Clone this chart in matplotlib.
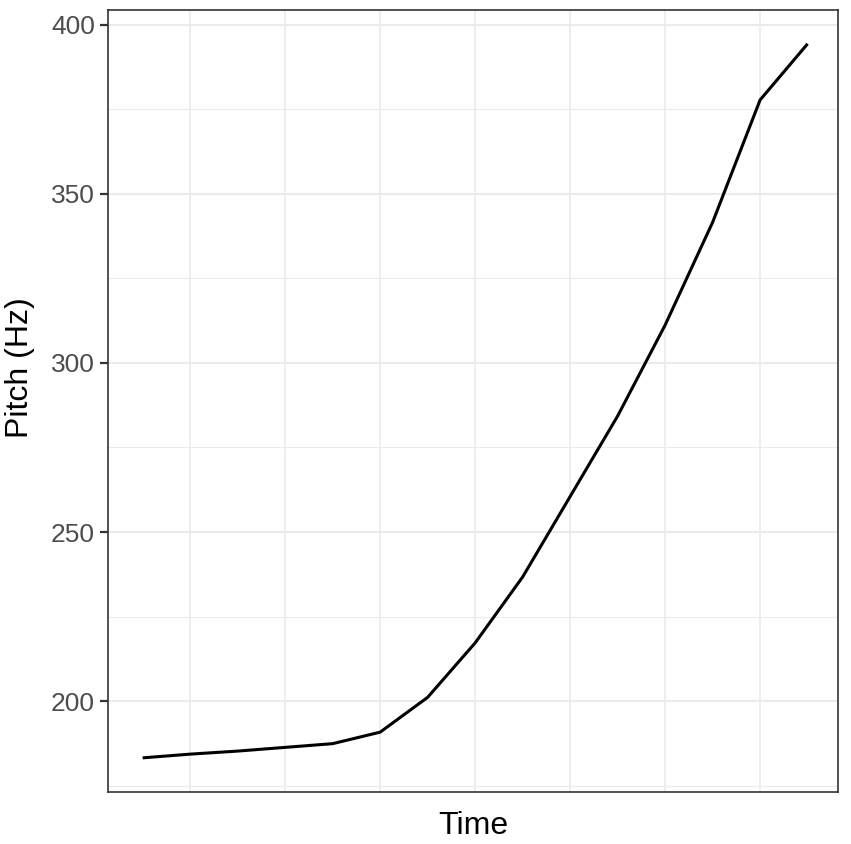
import numpy as np
import matplotlib
matplotlib.use('Agg')
import matplotlib.pyplot as plt

# pitch contour
time = [1, 2, 3, 4, 5, 6, 7, 8, 9, 10, 11, 12, 13, 14, 15]
pitch = [183.2, 184.3, 185.2, 186.3, 187.4, 190.8, 201.1, 217.2,
         236.7, 260.5, 284.3, 311.2, 341.6, 377.8, 394.4]
y_major = [200, 250, 300, 350, 400]
y_minor = [175, 225, 275, 325, 375]
x_grid = [2, 4, 6, 8, 10, 12, 14]

plt.rcParams['font.family'] = ['Liberation Sans', 'DejaVu Sans']

fig = plt.figure(figsize=(8.51, 8.44), dpi=100)
ax = fig.add_axes([108 / 851, 1 - 792 / 844, 730 / 851, 782 / 844])

grid_col = '#EBEBEB'
for v in y_minor:
    ax.axhline(v, color=grid_col, lw=0.8, zorder=0)
for v in y_major:
    ax.axhline(v, color=grid_col, lw=1.5, zorder=0)
for v in x_grid:
    ax.axvline(v, color=grid_col, lw=1.2, zorder=0)

ax.plot(time, pitch, color='black', lw=2.2, solid_capstyle='butt', zorder=3)

ax.set_xlim(0.27, 15.64)
ax.set_ylim(173.1, 404.4)
ax.set_yticks(y_major)
ax.set_xticks([])

for s in ax.spines.values():
    s.set_color('#333333')
    s.set_linewidth(1.2)

ax.tick_params(axis='y', length=5.5, width=1.6, color='#333333',
               labelsize=19, labelcolor='#4D4D4D', pad=4)

ax.set_ylabel('Pitch (Hz)', fontsize=23, color='black')
ax.set_xlabel('Time', fontsize=23, color='black')
ax.yaxis.set_label_coords(-0.1, 0.543)
ax.xaxis.set_label_coords(0.5, -0.024)

fig.savefig('out.png', dpi=100, facecolor='white')
